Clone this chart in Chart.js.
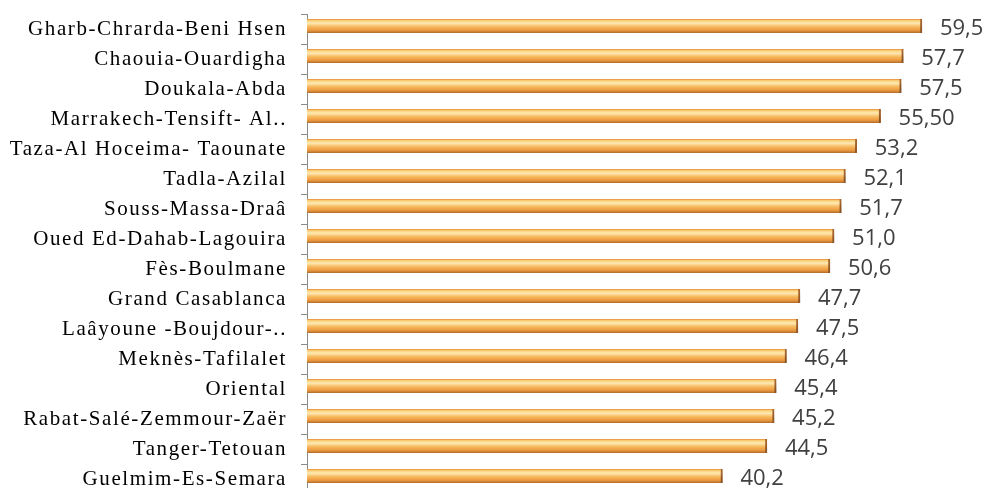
<!DOCTYPE html>
<html>
<head>
<meta charset="utf-8">
<script src="https://cdn.jsdelivr.net/npm/chart.js@4"></script>
<style>
  html, body { margin: 0; padding: 0; background: #fff; overflow: hidden; }
  #wrap { width: 987px; height: 500px; position: relative; }
</style>
</head>
<body>
<div id="wrap"><canvas id="myChart"></canvas></div>
<script>
// regions, sorted as in the picture
const regions = [
  "Gharb-Chrarda-Beni Hsen", "Chaouia-Ouardigha", "Doukala-Abda",
  "Marrakech-Tensift- Al..", "Taza-Al Hoceima- Taounate", "Tadla-Azilal",
  "Souss-Massa-Draâ", "Oued Ed-Dahab-Lagouira", "Fès-Boulmane",
  "Grand Casablanca", "Laâyoune -Boujdour-..", "Meknès-Tafilalet",
  "Oriental", "Rabat-Salé-Zemmour-Zaër", "Tanger-Tetouan", "Guelmim-Es-Semara"
];
const values = [59.5, 57.7, 57.5, 55.5, 53.2, 52.1, 51.7, 51.0, 50.6, 47.7, 47.5, 46.4, 45.4, 45.2, 44.5, 40.2];
// value labels as printed (decimal comma)
const valueLabels = ["59,5", "57,7", "57,5", "55,50", "53,2", "52,1", "51,7", "51,0", "50,6", "47,7", "47,5", "46,4", "45,4", "45,2", "44,5", "40,2"];

const BAR_H = 14;

// vertical gradient for each bar, like the 3d tube look
function barGradient(context) {
  const chart = context.chart;
  const y = chart.scales.y;
  if (!chart.chartArea || !y) return "#f0a040";
  const cy = y.getPixelForValue(context.dataIndex);
  const g = chart.ctx.createLinearGradient(0, cy - BAR_H / 2, 0, cy + BAR_H / 2);
  g.addColorStop(0, "#e38a36");
  g.addColorStop(0.12, "#fbd27a");
  g.addColorStop(0.3, "#fee9b4");
  g.addColorStop(0.55, "#f7b95e");
  g.addColorStop(0.8, "#ec9a40");
  g.addColorStop(1, "#b06c2c");
  return g;
}

const barStyle = {
  id: "barStyle",
  beforeDraw(chart) {
    // spaced-out serif labels like the original
    chart.ctx.letterSpacing = "1.6px";
  },
  beforeDatasetsDraw(chart) {
    const ctx = chart.ctx;
    ctx.letterSpacing = "0px";
    ctx.save();
    ctx.translate(0, -3);
    ctx.shadowColor = "rgba(0,0,0,0.5)";
    ctx.shadowBlur = 5;
    ctx.shadowOffsetY = 6;
  },
  afterDatasetsDraw(chart) {
    const ctx = chart.ctx;
    ctx.restore();
    // value labels next to bar ends
    ctx.save();
    ctx.font = "22px 'Open Sans'";
    ctx.fillStyle = "#404040";
    ctx.textAlign = "left";
    ctx.textBaseline = "middle";
    chart.getDatasetMeta(0).data.forEach((bar, i) => {
      ctx.fillText(valueLabels[i], bar.x + 18, bar.y);
    });
    ctx.restore();
  }
};

var ctx = document.getElementById("myChart").getContext("2d");
var myChart = new Chart(ctx, {
  type: "bar",
  data: {
    labels: regions,
    datasets: [
      {
        data: values,
        backgroundColor: barGradient,
        borderColor: "#a8642a",
        borderWidth: { top: 0, right: 2, bottom: 0, left: 0 },
        borderSkipped: false,
        barThickness: BAR_H,
      },
    ],
  },
  options: {
    indexAxis: "y",
    responsive: true,
    maintainAspectRatio: false,
    animation: false,
    layout: { padding: { top: 14, right: 0, bottom: 6, left: 0 } },
    plugins: { legend: { display: false }, tooltip: { enabled: false } },
    scales: {
      x: { display: false, min: 0, max: 65.8 },
      y: {
        afterFit: (s) => {
          s.width = 307;
          s.paddingTop = 0;
          s.paddingBottom = 0;
        },
        grid: {
          offset: true,
          drawOnChartArea: false,
          drawTicks: true,
          tickLength: 6,
          color: "#8a8a8a",
        },
        border: { display: true, color: "#8a8a8a" },
        ticks: {
          padding: 14,
          color: "#000",
          font: { family: "'Liberation Serif'", size: 21 },
          autoSkip: false,
        },
      },
    },
  },
  plugins: [barStyle],
});
</script>
</body>
</html>
